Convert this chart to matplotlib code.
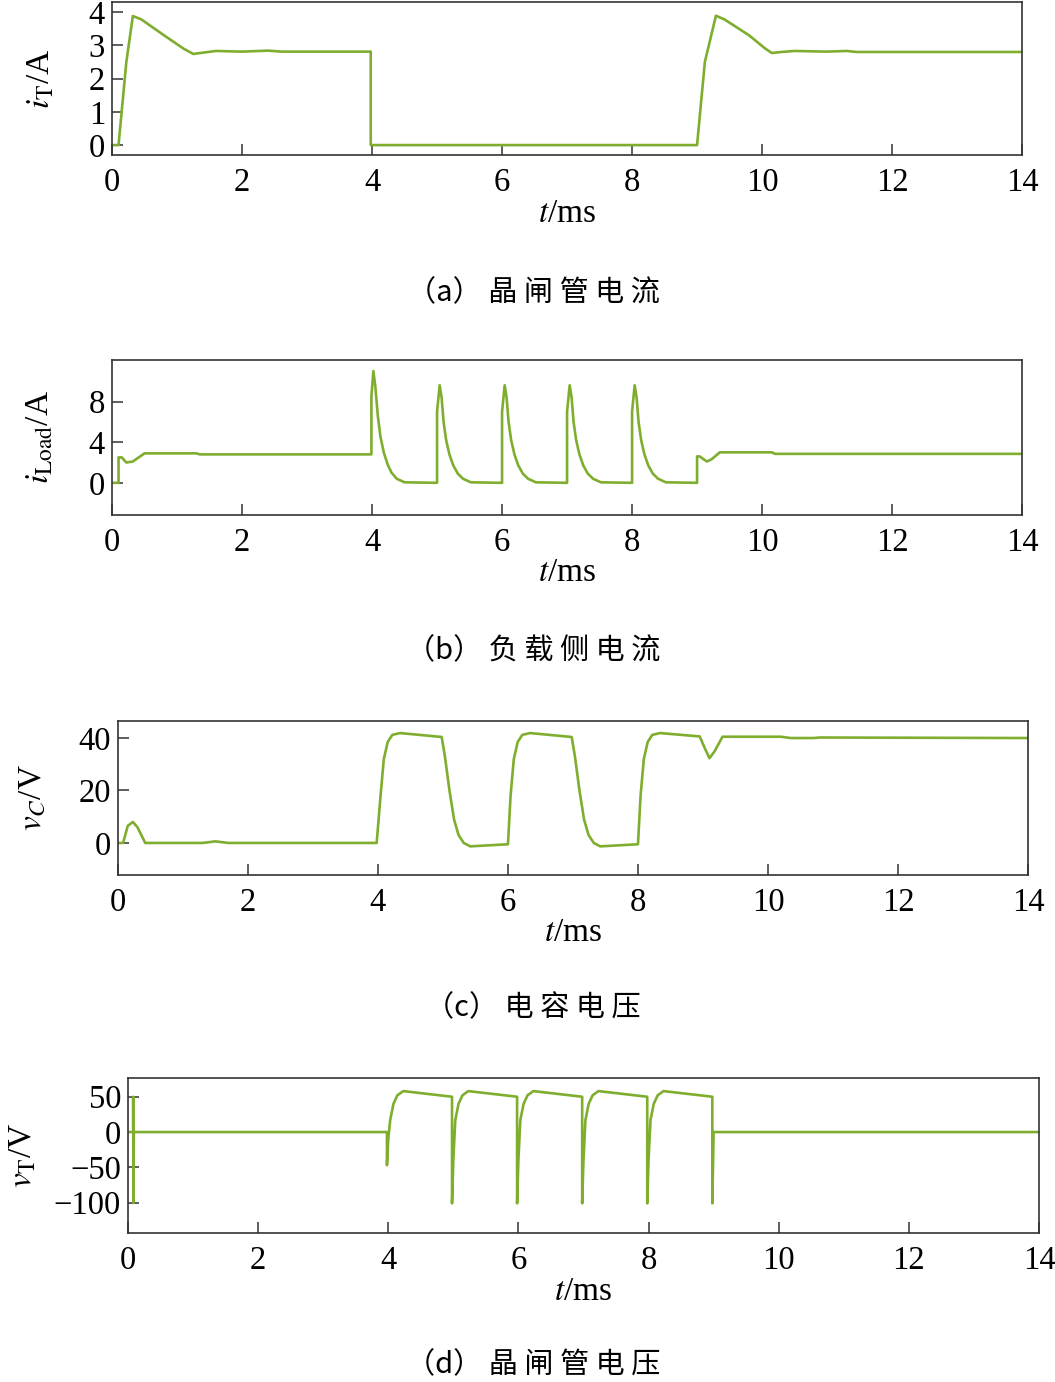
import matplotlib
matplotlib.use("Agg")
import matplotlib.pyplot as plt

plt.rcParams['font.family'] = ['Liberation Serif', 'DejaVu Serif']
plt.rcParams['mathtext.fontset'] = 'stix'

# (a) thyristor current i_T (A)
t_a = [0, 0.10, 0.22, 0.32, 0.45, 0.8, 1.1, 1.25, 1.4, 1.6, 2.0, 2.4, 2.6, 3.98, 3.98,
       9.0, 9.12, 9.29, 9.42, 9.8, 10.05, 10.15, 10.3, 10.5, 11.0, 11.3, 11.45, 14]
i_T = [0, 0, 2.5, 3.88, 3.78, 3.3, 2.9, 2.74, 2.78, 2.83, 2.81, 2.84, 2.81, 2.81, 0,
       0, 2.5, 3.89, 3.78, 3.3, 2.9, 2.77, 2.8, 2.83, 2.81, 2.83, 2.8, 2.8]

# (b) load side current i_Load (A)
t_b = [0, 0.10, 0.10, 0.15, 0.22, 0.32, 0.5, 1.3, 1.35, 3.99,
       3.99, 4.02, 4.05, 4.09, 4.13, 4.18, 4.24, 4.3, 4.38, 4.5, 5.0,
       5.0, 5.04, 5.07, 5.1, 5.14, 5.19, 5.25, 5.32, 5.4, 5.52, 6.0,
       6.0, 6.04, 6.07, 6.1, 6.14, 6.19, 6.25, 6.32, 6.4, 6.52, 7.0,
       7.0, 7.04, 7.07, 7.1, 7.14, 7.19, 7.25, 7.32, 7.4, 7.52, 8.0,
       8.0, 8.04, 8.07, 8.1, 8.14, 8.19, 8.25, 8.32, 8.4, 8.52, 9.0,
       9.0, 9.04, 9.15, 9.22, 9.35, 10.15, 10.2, 14]
i_L = [0, 0, 2.5, 2.5, 2.0, 2.1, 2.9, 2.9, 2.8, 2.8,
       8.5, 11.0, 9.5, 6.5, 4.5, 3.0, 1.8, 1.0, 0.4, 0.05, 0,
       7.0, 9.6, 8.4, 6.0, 4.2, 2.8, 1.7, 0.9, 0.4, 0.05, 0,
       7.0, 9.6, 8.4, 6.0, 4.2, 2.8, 1.7, 0.9, 0.4, 0.05, 0,
       7.0, 9.6, 8.4, 6.0, 4.2, 2.8, 1.7, 0.9, 0.4, 0.05, 0,
       7.0, 9.6, 8.4, 6.0, 4.2, 2.8, 1.7, 0.9, 0.4, 0.05, 0,
       2.6, 2.6, 2.1, 2.3, 3.0, 3.0, 2.85, 2.85]

# (c) capacitor voltage v_C (V)
t_c = [0, 0.08, 0.15, 0.23, 0.3, 0.42, 1.3, 1.5, 1.7, 3.98,
       4.04, 4.09, 4.15, 4.22, 4.34, 4.98, 5.03, 5.1, 5.17, 5.24, 5.32, 5.42, 6.0,
       6.04, 6.09, 6.15, 6.22, 6.34, 6.98, 7.03, 7.1, 7.17, 7.24, 7.32, 7.42, 8.0,
       8.04, 8.09, 8.15, 8.22, 8.34, 8.95, 9.03, 9.1, 9.18, 9.3, 10.2, 10.35, 10.7, 10.8, 14]
v_C = [0, 0, 6.5, 8.0, 6.0, 0, 0, 0.6, 0, 0,
       18, 32, 38.5, 41.2, 41.9, 40.4, 33, 20, 9, 3, 0, -1.3, -0.5,
       18, 32, 38.5, 41.2, 41.9, 40.4, 33, 20, 9, 3, 0, -1.3, -0.5,
       18, 32, 38.5, 41.2, 41.9, 40.6, 36, 32.3, 35, 40.5, 40.5, 40, 40, 40.2, 40]

# (d) thyristor voltage v_T (V)
t_d = [0, 0.08, 0.08, 0.085, 0.09, 3.98, 3.98, 4.0, 4.03, 4.08, 4.14, 4.23,
       4.98, 4.98, 5.0, 5.03, 5.08, 5.14, 5.23,
       5.98, 5.98, 6.0, 6.03, 6.08, 6.14, 6.23,
       6.98, 6.98, 7.0, 7.03, 7.08, 7.14, 7.23,
       7.98, 7.98, 8.0, 8.03, 8.08, 8.14, 8.23,
       8.98, 8.98, 9.0, 14]
v_T = [0, 0, 50, -100, 0, 0, -47, -10, 17, 40, 52, 58,
       50, -101, -40, 17, 40, 52, 58,
       50, -101, -40, 17, 40, 52, 58,
       50, -101, -40, 17, 40, 52, 58,
       50, -101, -40, 17, 40, 52, 58,
       50, -101, 0, 0]

x_ticks = [0, 2, 4, 6, 8, 10, 12, 14]

panels = [
    dict(t=t_a, y=i_T, rect=[0.1062, 0.8878, 0.8626, 0.1107], ylim=(-0.3, 4.3),
         yticks=[0, 1, 2, 3, 4], ylabel=r'$i_{\mathrm{T}}$/A', lpad=23,
         cap='（a） 晶 闸 管 电 流', cap_y=293),
    dict(t=t_b, y=i_L, rect=[0.1062, 0.6274, 0.8626, 0.1122], ylim=(-3.16, 12.1),
         yticks=[0, 4, 8], ylabel=r'$i_{\mathrm{Load}}$/A', lpad=24,
         cap='（b） 负 载 侧 电 流', cap_y=651),
    dict(t=t_c, y=v_C, rect=[0.1118, 0.3669, 0.8626, 0.1114], ylim=(-12.2, 46.5),
         yticks=[0, 20, 40], ylabel=r'$v_C$/V', lpad=22,
         cap='（c） 电 容 电 压', cap_y=1008),
    dict(t=t_d, y=v_T, rect=[0.1213, 0.1078, 0.8635, 0.1122], ylim=(-143, 76.6),
         yticks=[-100, -50, 0, 50], ylabel=r'$v_{\mathrm{T}}$/V', lpad=11,
         cap='（d） 晶 闸 管 电 压', cap_y=1365),
]

fig = plt.figure(figsize=(10.55, 13.82), dpi=100)
green = '#7fae2f'

for p in panels:
    ax = fig.add_axes(p['rect'])
    ax.plot(p['t'], p['y'], color=green, lw=1.9)
    ax.set_xlim(0, 14)
    ax.set_ylim(*p['ylim'])
    ax.set_xticks(x_ticks)
    ax.set_yticks(p['yticks'])
    ax.set_yticklabels([str(v).replace('-', '\u2212') for v in p['yticks']])
    ax.tick_params(direction='in', length=8, width=1.1, labelsize=23.5, color='#333333')
    ax.tick_params(axis='x', pad=9)
    ax.tick_params(axis='y', pad=5)
    for s in ax.spines.values():
        s.set_linewidth(1.2)
        s.set_color('#333333')
    ax.set_xlabel(r'$t$/ms', fontsize=24, labelpad=0)
    ax.set_ylabel(p['ylabel'], fontsize=24, labelpad=p['lpad'])
    fig.text(533 / 1055, 1 - p['cap_y'] / 1382, p['cap'], ha='center', va='center',
             fontsize=21, family=['Noto Sans CJK SC', 'DejaVu Sans'])

fig.savefig('out.png', dpi=100)
